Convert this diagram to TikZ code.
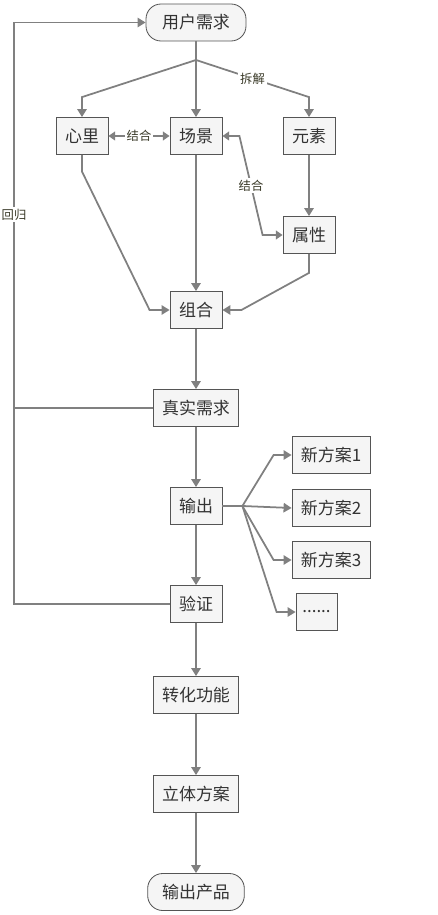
\documentclass[tikz,border=0pt]{standalone}
\usepackage{fontspec}
\setmainfont{Noto Sans CJK SC}
\usepackage{xcolor}
\definecolor{linegray}{HTML}{808080}
\definecolor{edgegray}{HTML}{555555}
\definecolor{boxgray}{HTML}{F5F5F5}
\definecolor{textdark}{HTML}{333333}
\definecolor{lbldark}{HTML}{3A3A28}
\usepackage{tikz}
\usetikzlibrary{arrows.meta, positioning, calc}
\tikzset{
  xbox/.style  ={rectangle, draw=edgegray, line width=0.7pt, fill=boxgray, text=textdark, align=center,
                 inner sep=2pt, minimum height=11.1mm, minimum width=15.6mm, font=\fontsize{14.5}{16}\selectfont},
  xwide/.style ={xbox, minimum width=25.5mm},
  xnew/.style  ={xbox, minimum width=23.4mm},
  xround/.style={xbox, rounded corners=4.5mm},
  xline/.style ={line width=1.5pt, color=linegray},
  xarr/.style  ={-{Triangle[length=2.4mm, width=2.8mm]}, line width=1.5pt, color=linegray},
  xboth/.style ={{Triangle[length=2mm, width=2.6mm]}-{Triangle[length=2mm, width=2.6mm]}, line width=1.5pt, color=linegray},
  xlbl/.style  ={font=\fontsize{10.5}{12}\selectfont, text=lbldark, fill=white, inner sep=1.5pt},
}
\begin{document}
\begin{tikzpicture}[x=0.3mm, y=-0.3mm]
  \useasboundingbox (0,0) rectangle (437,915);
  % 上部：拆解
  \node[xround, minimum width=30mm] (user)  at (196,22.5) {用户需求};
  \node[xbox]                       (heart) at (82,136)   {心里};
  \node[xbox]                       (scene) at (196,136)  {场景};
  \node[xbox]                       (elem)  at (309,136)  {元素};
  \node[xbox]                       (attr)  at (309,235)  {属性};
  \node[xbox]                       (combo) at (196,310)  {组合};
  % 主线
  \node[xwide]  (real)   at (196,408) {真实需求};
  \node[xbox]   (out)    at (196,506) {输出};
  \node[xbox]   (verify) at (196,604) {验证};
  \node[xwide]  (func)   at (196,695) {转化功能};
  \node[xwide]  (plan)   at (196,794) {立体方案};
  \node[xround, minimum width=29mm] (prod) at (196,892) {输出产品};
  % 新方案
  \node[xnew] (new1) at (331,455) {新方案1};
  \node[xnew] (new2) at (331,508) {新方案2};
  \node[xnew] (new3) at (331,560) {新方案3};
  \node[xbox, minimum width=12.3mm] (more) at (316.5,612) {......};
  \coordinate (split) at (196,60);
  \coordinate (fan)   at ([xshift=6mm]out.east);
  \coordinate (rail)  at (14,0);
  % 连线
  \draw[xline] (user) -- (split);
  \draw[xarr]  (split) -- ([yshift=6mm]heart.north) -- (heart.north);
  \draw[xarr]  (split) -- (scene.north);
  \draw[xarr]  (split) -- node[xlbl]{拆解} ([yshift=6mm]elem.north) -- (elem.north);
  \draw[xboth] (heart) -- node[xlbl]{结合} (scene);
  \draw[xboth] (scene.east) -- ([xshift=5.1mm]scene.east) -- node[xlbl]{结合} ([xshift=-6mm]attr.west) -- (attr.west);
  \draw[xarr]  (elem) -- (attr);
  \draw[xarr]  (heart.south) -- ([yshift=-5mm]heart.south) -- ([xshift=-6mm]combo.west) -- (combo.west);
  \draw[xarr]  (scene) -- (combo);
  \draw[xarr]  (attr.south) -- ([yshift=-5.7mm]attr.south) -- ([xshift=5.7mm]combo.east) -- (combo.east);
  \foreach \a/\b in {combo/real, real/out, out/verify, verify/func, func/plan, plan/prod}
    \draw[xarr] (\a) -- (\b);
  \draw[xline] (out) -- (fan);
  \draw[xarr]  (fan) -- ([xshift=-5.4mm]new1.west) -- (new1.west);
  \draw[xarr]  (fan) -- (new2.west);
  \draw[xarr]  (fan) -- ([xshift=-5.4mm]new3.west) -- (new3.west);
  \draw[xarr]  (fan) -- ([xshift=-5.7mm]more.west) -- (more.west);
  % 回归
  \draw[xline] (real.west) -- (real.west -| rail);
  \draw[xarr]  (verify.west) -- (verify.west -| rail) -- node[xlbl, pos=0.67]{回归} (user.west -| rail) -- (user.west);
\end{tikzpicture}
\end{document}
